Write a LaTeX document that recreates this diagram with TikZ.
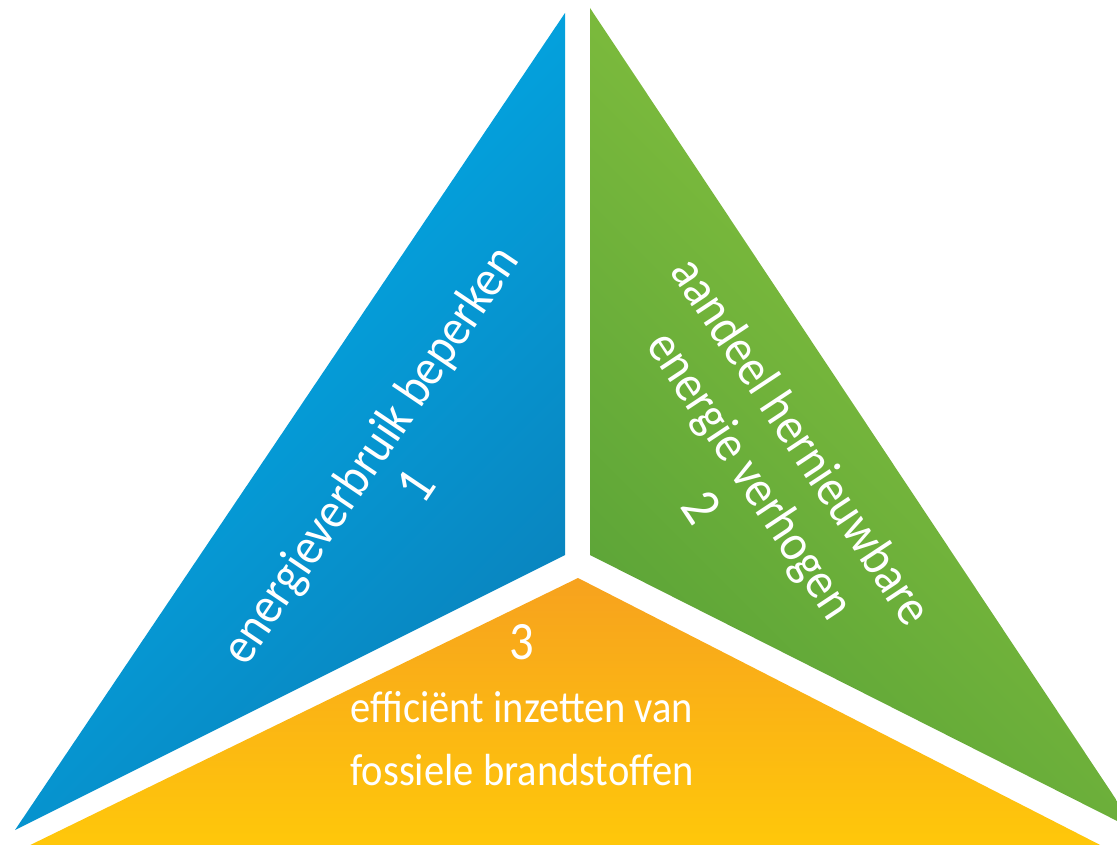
\documentclass[tikz,border=0pt]{standalone}
\usepackage{fontspec}
\setmainfont{Carlito}
\newfontfamily\condfont[FakeStretch=0.9]{Carlito}
\definecolor{blueL}{HTML}{00B2EF}
\definecolor{blueD}{HTML}{0A82BC}
\definecolor{greenL}{HTML}{8DC63F}
\definecolor{greenD}{HTML}{5AA337}
\definecolor{orangeT}{HTML}{F7A21E}
\definecolor{orangeB}{HTML}{FFC80A}
\begin{document}
\begin{tikzpicture}[x=1pt,y=-1pt,
  lbl/.style={text=white, align=center, inner sep=0pt}]
\useasboundingbox (0,0) rectangle (1117,845);
\begin{scope}
\clip (0,0) rectangle (1117,845);
\shade[top color=blueL, bottom color=blueD, shading angle=45]
  (565,13) -- (15,830) -- (565,555) -- cycle;
\shade[top color=greenL, bottom color=greenD, shading angle=-45]
  (590,8) -- (1137,831) -- (590,555) -- cycle;
\shade[top color=orangeT, bottom color=orangeB]
  (578,578) -- (20,850) -- (1110,850) -- cycle;
\end{scope}
\node[lbl, rotate=56, font=\condfont\fontsize{52}{57}\selectfont] (t1) at (392,470)
  {energieverbruik beperken\\{\fontsize{56}{57}\selectfont 1}};
\node[lbl, rotate=-56.5, font=\condfont\fontsize{52}{61}\selectfont] (t2) at (752,474)
  {aandeel hernieuwbare\\energie verhogen\\{\fontsize{56}{61}\selectfont 2}};
\node[lbl, font=\condfont\fontsize{45}{63}\selectfont] (t3) at (522,705)
  {{\fontsize{54}{63}\selectfont 3}\\efficiënt inzetten van\\fossiele brandstoffen};
\end{tikzpicture}
\end{document}
